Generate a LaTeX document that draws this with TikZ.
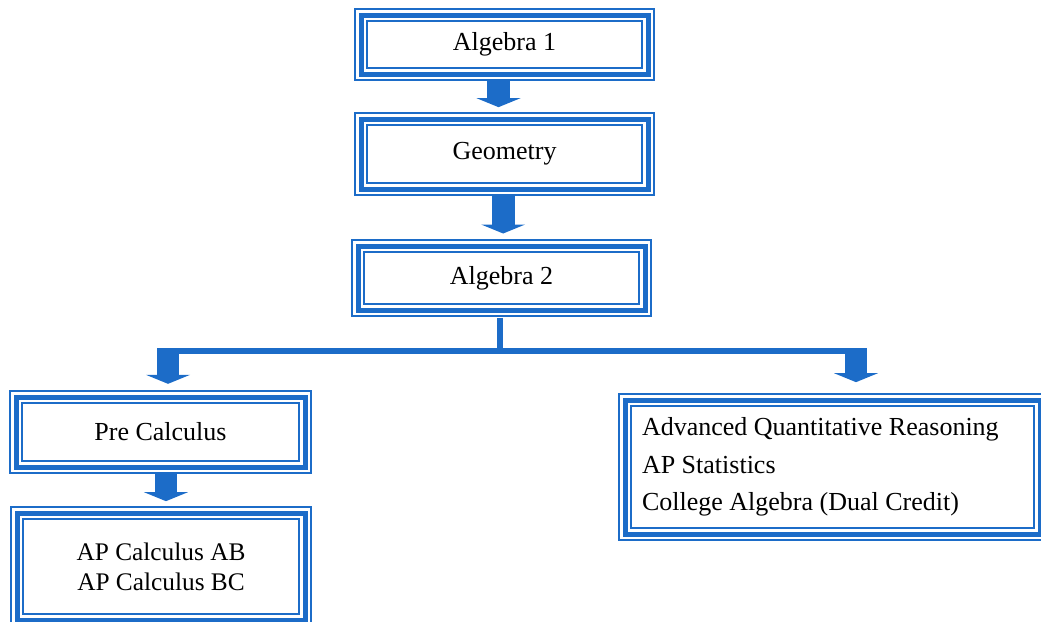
\documentclass[tikz,border=0pt]{standalone}
\usepackage{fontspec}
\setmainfont{Liberation Serif}
\usepackage{tikz}
\usetikzlibrary{arrows.meta,positioning}
\definecolor{cBlue}{RGB}{28,108,200}

\begin{document}
\begin{tikzpicture}[
	x=0.75pt, y=-0.75pt,
	course/.style={
		draw=cBlue, line width=3.75pt,
		preaction={draw=cBlue, line width=10.5pt},
		preaction={draw=white, line width=7.5pt},
		inner sep=0pt, align=center,
		font=\fontsize{19.5}{22.5}\selectfont
	},
	blockarrow/.style={
		draw=cBlue, line width=17pt,
		-{Triangle[width=33pt,length=6.75pt,line width=0pt]}
	},
	stemline/.style={draw=cBlue, line width=4.5pt}
	]
	\useasboundingbox (0,0) rectangle (1041,621);

	\node[course, minimum width=215.25pt, minimum height=44.25pt] (alg1) at (504.5,44.5) {Algebra 1};
	\node[course, minimum width=215.25pt, minimum height=52.5pt] (geo) at (504.5,154) {Geometry};
	\node[course, minimum width=215.25pt, minimum height=48pt] (alg2) at (501.5,278) {Algebra 2};
	\node[course, minimum width=216.75pt, minimum height=52.5pt] (pre) at (160.5,432) {Pre Calculus};
	\node[course, minimum width=216pt, minimum height=80.25pt,
		font=\fontsize{19}{22.5}\selectfont] (apc) at (161,566.5) {AP Calculus AB\\AP Calculus BC};
	\node[course, align=flush left, inner xsep=12.75pt, text width=285.75pt, minimum height=100.5pt,
		font=\fontsize{19.5}{28}\selectfont] (adv) at (832.5,467)
		{Advanced Quantitative Reasoning\\AP Statistics\\College Algebra (Dual Credit)};

	\coordinate (split) at (500,351);
	\coordinate (lend) at (157,351);
	\coordinate (rend) at (867,351);
	\coordinate (ltop) at (168,348);
	\coordinate (rtop) at (856,348);

	\draw[blockarrow, shorten <=3.5pt, shorten >=7pt] ([xshift=-4.5pt]alg1.south) -- ([xshift=-4.5pt]alg1.south |- geo.north);
	\draw[blockarrow, shorten <=3.5pt, shorten >=7.5pt] ([xshift=-1pt]geo.south) -- ([xshift=-1pt]geo.south |- alg2.north);
	\draw[stemline, shorten <=4pt] (split |- alg2.south) -- (split);
	\draw[stemline] (lend) -- (rend);
	\draw[blockarrow, shorten >=8pt] (ltop) -- (ltop |- pre.north);
	\draw[blockarrow, shorten >=11.5pt] (rtop) -- (rtop |- adv.north);
	\draw[blockarrow, shorten <=3.5pt, shorten >=7pt] ([xshift=4.1pt]pre.south) -- ([xshift=4.1pt]pre.south |- apc.north);
\end{tikzpicture}
\end{document}
